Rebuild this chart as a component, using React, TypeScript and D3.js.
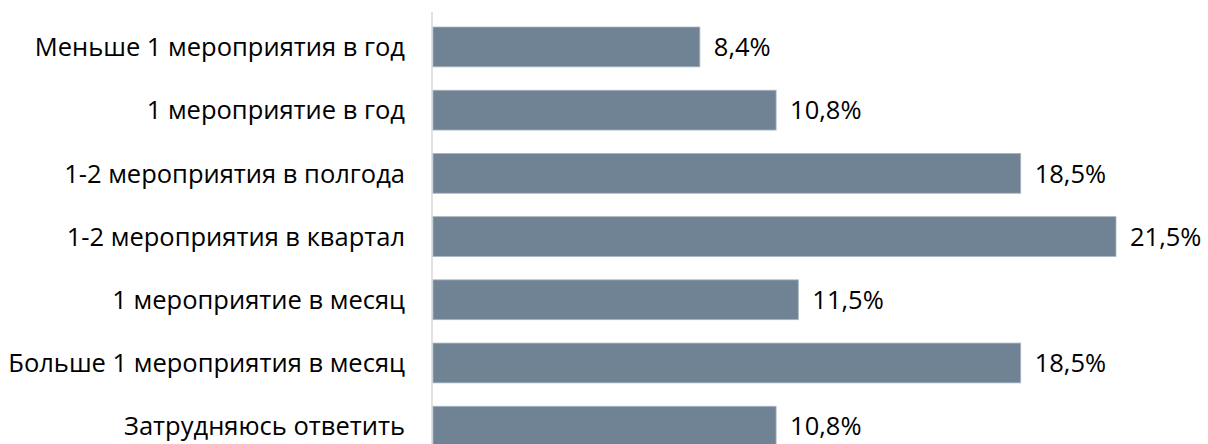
import React, { useEffect, useRef } from "react"
import * as d3 from "d3"

const categories = [
  "Меньше 1 мероприятия в год",
  "1 мероприятие в год",
  "1-2 мероприятия в полгода",
  "1-2 мероприятия в квартал",
  "1 мероприятие в месяц",
  "Больше 1 мероприятия в месяц",
  "Затрудняюсь ответить",
]
const values = [8.4, 10.8, 18.5, 21.5, 11.5, 18.5, 10.8]
const valueLabels = ["8,4%", "10,8%", "18,5%", "21,5%", "11,5%", "18,5%", "10,8%"]

export default function App() {
  const ref = useRef<SVGSVGElement>(null)

  useEffect(() => {
    const width = 1208
    const height = 444
    const svg = d3.select(ref.current)
    svg.selectAll("*").remove()
    svg.attr("width", width).attr("height", height)

    const font = "'Open Sans', sans-serif"

    const x = d3.scaleLinear().domain([0, 21.5]).range([433, 1116])
    const y = d3.scaleBand()
      .domain(categories)
      .range([15, 15 + 63.3 * 7])
      .paddingInner(0.37)
      .paddingOuter(0.19)

    const rows = categories.map((c, i) => ({ name: c, value: values[i], label: valueLabels[i] }))

    svg.append("line")
      .attr("x1", x(0) - 1).attr("x2", x(0) - 1)
      .attr("y1", 12).attr("y2", height)
      .attr("stroke", "#d9d9d9")
      .attr("stroke-width", 1.5)

    svg.selectAll("rect.bar").data(rows).enter().append("rect")
      .attr("class", "bar")
      .attr("x", x(0))
      .attr("y", d => y(d.name)!)
      .attr("width", d => x(d.value) - x(0))
      .attr("height", y.bandwidth())
      .attr("fill", "#708394")
      .attr("stroke", "#a8b6c2")
      .attr("stroke-width", 0.8)

    svg.selectAll("text.value").data(rows).enter().append("text")
      .attr("class", "value")
      .attr("x", d => x(d.value) + 14)
      .attr("y", d => y(d.name)! + y.bandwidth() / 2)
      .attr("dy", "0.36em")
      .attr("font-family", font)
      .attr("font-size", 25.5)
      .attr("fill", "#000")
      .text(d => d.label)

    svg.selectAll("text.cat").data(rows).enter().append("text")
      .attr("class", "cat")
      .attr("x", 405)
      .attr("y", d => y(d.name)! + y.bandwidth() / 2)
      .attr("dy", "0.36em")
      .attr("text-anchor", "end")
      .attr("font-family", font)
      .attr("font-size", 25.5)
      .attr("fill", "#000")
      .text(d => d.name)
  }, [])

  return <svg ref={ref} style={{ position: "absolute", left: 0, top: 0, display: "block" }} />
}
